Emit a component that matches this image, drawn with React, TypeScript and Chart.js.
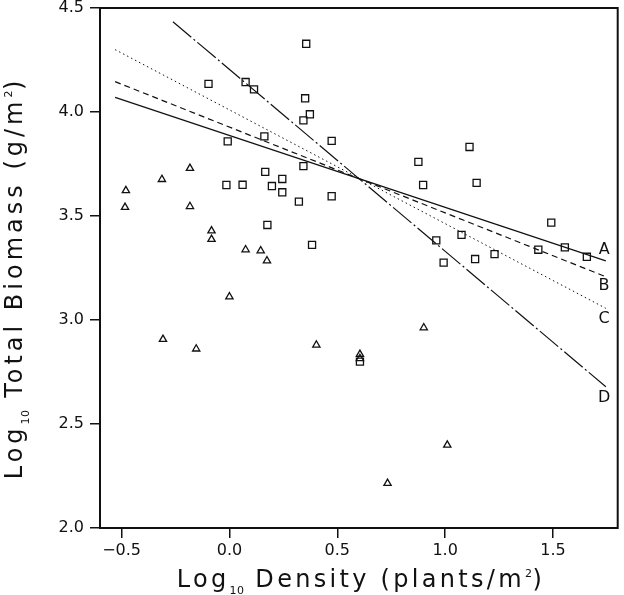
import React, { useEffect, useRef } from "react";
import { Chart, registerables } from "chart.js";

Chart.register(...registerables);

// Observed plots: open squares and open triangles (log10 density, log10 biomass)
const squareDensity = [
  -0.097, 0.075, 0.114, 0.356, 0.351, 0.373, 0.343, 0.162, -0.008, 0.343,
  -0.014, 0.061, 0.166, 0.197, 0.245, 0.245, 0.322, 0.176, 0.383, 0.474,
  0.474, 0.876, 1.113, 0.898, 1.146, 0.959, 1.076, 0.993, 1.139, 1.229,
  1.492, 1.432, 1.555, 1.657, 0.605,
];
const squareBiomass = [
  4.135, 4.144, 4.109, 4.328, 4.066, 3.989, 3.96, 3.883, 3.859, 3.74,
  3.649, 3.65, 3.712, 3.644, 3.678, 3.614, 3.569, 3.457, 3.361, 3.861,
  3.595, 3.76, 3.832, 3.649, 3.659, 3.383, 3.409, 3.276, 3.293, 3.317,
  3.468, 3.338, 3.349, 3.304, 2.8,
];
const triangleDensity = [
  -0.48, -0.484, -0.313, -0.183, -0.183, -0.083, -0.083, 0.075, 0.145, 0.174,
  0.0, -0.308, -0.154, 0.403, 1.01, 0.733, 0.901, 0.605, 0.605,
];
const triangleBiomass = [
  3.622, 3.542, 3.676, 3.729, 3.546, 3.429, 3.388, 3.338, 3.333, 3.285,
  3.112, 2.907, 2.861, 2.88, 2.399, 2.215, 2.963, 2.835, 2.815,
];

// Fitted regression lines, start and end points
const lineA = [
  [-0.53, 4.07],
  [1.745, 3.284],
];
const lineB = [
  [-0.53, 4.146],
  [1.745, 3.208],
];
const lineC = [
  [-0.53, 4.3],
  [1.745, 3.056],
];
const lineD = [
  [-0.262, 4.434],
  [1.745, 2.679],
];

const curveNames = ["A", "B", "C", "D"];
const curveNameDensity = [1.737, 1.737, 1.737, 1.737];
const curveNameBiomass = [3.337, 3.163, 3.005, 2.625];

const xTickValues = [-0.5, 0.0, 0.5, 1.0, 1.5];
const yTickValues = [2.0, 2.5, 3.0, 3.5, 4.0, 4.5];

const FONT = "'DejaVu Sans', 'Liberation Sans', sans-serif";
const INK = "#111";

type Part = { text: string; size: number; dy: number };

const xTitle: Part[] = [
  { text: "Log", size: 24, dy: 0 },
  { text: "10", size: 11, dy: 7 },
  { text: " Density (plants/m", size: 24, dy: 0 },
  { text: "2", size: 11, dy: -10 },
  { text: ")", size: 24, dy: 0 },
];
const yTitle: Part[] = [
  { text: "Log", size: 24, dy: 0 },
  { text: "10", size: 11, dy: 7 },
  { text: " Total Biomass (g/m", size: 24, dy: 0 },
  { text: "2", size: 11, dy: -10 },
  { text: ")", size: 24, dy: 0 },
];

function drawRichText(
  ctx: CanvasRenderingContext2D,
  parts: Part[],
  cx: number,
  cy: number,
  vertical: boolean,
  spacing: number
) {
  ctx.save();
  ctx.translate(cx, cy);
  if (vertical) ctx.rotate(-Math.PI / 2);
  ctx.fillStyle = INK;
  ctx.textBaseline = "alphabetic";
  ctx.textAlign = "left";
  const c = ctx as any;
  const setFont = (p: Part) => {
    ctx.font = `${p.size}px ${FONT}`;
    c.letterSpacing = p.size > 15 ? `${spacing}px` : "0.5px";
    c.wordSpacing = "10px";
  };
  const widths = parts.map((p) => {
    setFont(p);
    return ctx.measureText(p.text).width;
  });
  const total = widths.reduce((a, b) => a + b, 0);
  let x = -total / 2;
  parts.forEach((p, i) => {
    setFont(p);
    ctx.fillText(p.text, x, p.dy);
    x += widths[i];
  });
  ctx.restore();
}

const framePlugin = {
  id: "frame",
  afterDraw(chart: any) {
    const { ctx, chartArea } = chart;
    ctx.save();
    ctx.strokeStyle = INK;
    ctx.lineWidth = 2;
    ctx.strokeRect(
      chartArea.left,
      chartArea.top,
      chartArea.right - chartArea.left,
      chartArea.bottom - chartArea.top
    );
    ctx.restore();
  },
};

const curveNamePlugin = {
  id: "curveNames",
  afterDatasetsDraw(chart: any) {
    const { ctx, scales } = chart;
    ctx.save();
    ctx.fillStyle = INK;
    ctx.font = `16px ${FONT}`;
    ctx.textAlign = "center";
    ctx.textBaseline = "middle";
    curveNames.forEach((name, i) => {
      ctx.fillText(
        name,
        scales.x.getPixelForValue(curveNameDensity[i]),
        scales.y.getPixelForValue(curveNameBiomass[i])
      );
    });
    ctx.restore();
  },
};

const axisTitlePlugin = {
  id: "axisTitles",
  afterDraw(chart: any) {
    const { ctx, chartArea } = chart;
    const midX = (chartArea.left + chartArea.right) / 2;
    const midY = (chartArea.top + chartArea.bottom) / 2;
    drawRichText(ctx, xTitle, midX + 2, 587, false, 3.3);
    drawRichText(ctx, yTitle, 22, midY + 10, true, 4.0);
  },
};

const toPoints = (xs: number[], ys: number[]) =>
  xs.map((x, i) => ({ x, y: ys[i] }));
const linePoints = (pts: number[][]) => pts.map(([x, y]) => ({ x, y }));

export default function App() {
  const canvasRef = useRef<HTMLCanvasElement | null>(null);

  useEffect(() => {
    if (!canvasRef.current) return;
    const lineStyle = {
      showLine: true,
      pointRadius: 0,
      pointHoverRadius: 0,
      borderColor: INK,
      borderWidth: 1.2,
      fill: false,
    };
    const chart = new Chart(canvasRef.current, {
      type: "scatter",
      data: {
        datasets: [
          { ...lineStyle, label: "A", data: linePoints(lineA) },
          { ...lineStyle, label: "B", data: linePoints(lineB), borderDash: [6, 4] },
          {
            ...lineStyle,
            label: "C",
            data: linePoints(lineC),
            borderDash: [1.5, 3],
            borderWidth: 1,
          },
          {
            ...lineStyle,
            label: "D",
            data: linePoints(lineD),
            borderDash: [24, 3, 2, 3],
          },
          {
            label: "squares",
            data: toPoints(squareDensity, squareBiomass),
            pointStyle: "rect",
            pointRadius: 5,
            borderColor: INK,
            borderWidth: 1.3,
            backgroundColor: "rgba(255,255,255,0)",
          },
          {
            label: "triangles",
            data: toPoints(triangleDensity, triangleBiomass),
            pointStyle: "triangle",
            pointRadius: 4.2,
            borderColor: INK,
            borderWidth: 1.3,
            backgroundColor: "rgba(255,255,255,0)",
          },
        ],
      },
      options: {
        animation: false,
        responsive: false,
        maintainAspectRatio: false,
        events: [],
        layout: { padding: { top: 8, right: 6, left: 0, bottom: 0 } },
        plugins: {
          legend: { display: false },
          tooltip: { enabled: false },
          title: { display: false },
        },
        scales: {
          x: {
            type: "linear",
            min: -0.6,
            max: 1.8,
            afterBuildTicks: (s: any) => {
              s.ticks = xTickValues.map((v) => ({ value: v }));
            },
            afterFit: (s: any) => {
              s.height = 67;
              s.paddingLeft = 0;
              s.paddingRight = 0;
            },
            ticks: {
              color: INK,
              font: { family: FONT, size: 16 },
              padding: 3,
              maxRotation: 0,
              autoSkip: false,
              callback: (v: any) => Number(v).toFixed(1).replace("-", "\u2212"),
            },
            grid: {
              display: true,
              drawOnChartArea: false,
              drawTicks: true,
              tickLength: 10,
              color: INK,
              lineWidth: 1.5,
            },
            border: { display: false },
          },
          y: {
            type: "linear",
            min: 2.0,
            max: 4.5,
            afterBuildTicks: (s: any) => {
              s.ticks = yTickValues.map((v) => ({ value: v }));
            },
            afterFit: (s: any) => {
              s.width = 100;
              s.paddingTop = 0;
              s.paddingBottom = 0;
            },
            ticks: {
              color: INK,
              font: { family: FONT, size: 16 },
              padding: 6,
              autoSkip: false,
              callback: (v: any) => Number(v).toFixed(1),
            },
            grid: {
              display: true,
              drawOnChartArea: false,
              drawTicks: true,
              tickLength: 10,
              color: INK,
              lineWidth: 1.5,
            },
            border: { display: false },
          },
        },
      },
      plugins: [framePlugin, curveNamePlugin, axisTitlePlugin],
    });
    return () => chart.destroy();
  }, []);

  return (
    <div style={{ position: "fixed", left: 0, top: 0, width: 624, height: 595, background: "#fff" }}>
      <canvas ref={canvasRef} width={624} height={595} style={{ display: "block" }} />
    </div>
  );
}
